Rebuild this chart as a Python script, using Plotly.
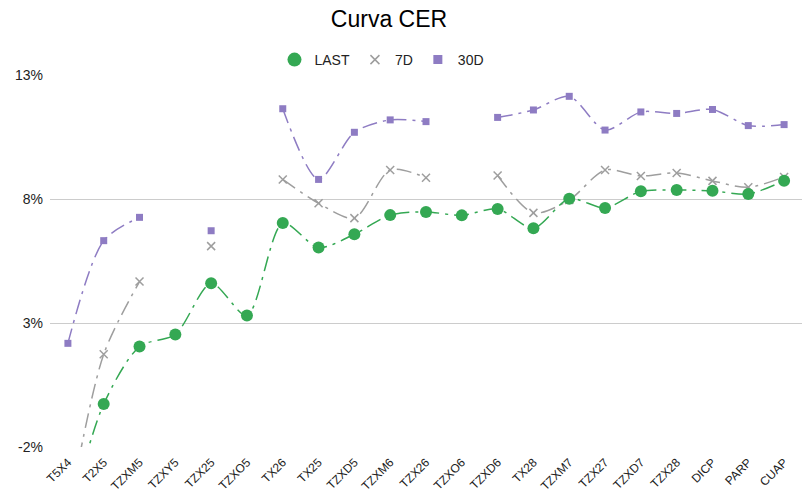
import plotly.graph_objects as go

categories = ["T5X4", "T2X5", "TZXM5", "TZXY5", "TZX25", "TZXO5", "TX26", "TX25",
              "TZXD5", "TZXM6", "TZX26", "TZXO6", "TZXD6", "TX28", "TZXM7", "TZX27",
              "TZXD7", "TZX28", "DICP", "PARP", "CUAP"]

last = [-5.0, -0.27, 2.05, 2.54, 4.6, 3.3, 7.03, 6.04, 6.58, 7.35, 7.48, 7.34, 7.6,
        6.82, 8.01, 7.64, 8.31, 8.36, 8.33, 8.2, 8.74]
d7 = [-4.8, 1.74, 4.67, None, 6.1, None, 8.79, 7.83, 7.23, 9.17, 8.86, None, 8.95,
      7.44, 7.96, 9.17, 8.93, 9.05, 8.73, 8.47, 8.89]
d30 = [2.18, 6.32, 7.26, None, 6.72, None, 11.64, 8.79, 10.69, 11.19, 11.12, None, 11.29,
       11.59, 12.14, 10.78, 11.51, 11.45, 11.61, 10.96, 11.0]

y_tickvals = [-2, 3, 8, 13]
y_ticktext = ["-2%", "3%", "8%", "13%"]

GREEN = "#34A853"
GRAY = "#9E9E9E"
PURPLE = "#8E7CC3"

fig = go.Figure()

series = [
    ("30D", d30, PURPLE, dict(symbol="square", size=7)),
    ("7D", d7, GRAY, dict(symbol="x-thin", size=8, line=dict(width=1.5, color=GRAY))),
    ("LAST", last, GREEN, dict(symbol="circle", size=12)),
]
for name, vals, col, mk in series:
    fig.add_trace(go.Scatter(
        x=categories, y=vals, mode="lines+markers", name=name,
        line=dict(color=col, width=1.5, dash="longdashdot", shape="spline", smoothing=0.8),
        marker=dict(color=col, **mk), connectgaps=False, showlegend=False,
    ))

for name, col, mk in [("LAST", GREEN, dict(symbol="circle", size=14)),
                      ("7D", GRAY, dict(symbol="x-thin", size=9, line=dict(width=1.5, color=GRAY))),
                      ("30D", PURPLE, dict(symbol="square", size=9))]:
    fig.add_trace(go.Scatter(x=[None], y=[None], mode="markers", name=name,
                             marker=dict(color=col, **mk), showlegend=True))

fig.update_layout(
    width=811, height=495,
    paper_bgcolor="white", plot_bgcolor="white",
    margin=dict(l=50, r=9, t=75, b=48, autoexpand=False),
    font=dict(family="Liberation Sans, Arial, sans-serif", color="#222222", size=12),
    title=dict(text="Curva CER", x=389 / 811, xanchor="center", y=1 - 19 / 495,
               yref="container", yanchor="middle", font=dict(size=23, color="#000000")),
    legend=dict(orientation="h", x=0.471, xref="container", xanchor="center", y=1 - 60 / 495,
                yref="container", yanchor="middle",
                font=dict(size=14, color="#222222"), traceorder="normal",
                itemsizing="trace"),
    showlegend=True,
)
fig.update_xaxes(range=[-0.5, len(categories) - 0.5], showgrid=False, showline=False,
                 ticks="", tickangle=-45, automargin=False, ticklabelstandoff=5,
                 tickfont=dict(size=12, color="#222222"), fixedrange=True)
fig.update_yaxes(range=[-2, 13], tickvals=y_tickvals, ticktext=y_ticktext, showgrid=True,
                 gridcolor="#cccccc", gridwidth=1, zeroline=False, showline=False,
                 automargin=False, ticklabelstandoff=6,
                 tickfont=dict(size=14, color="#222222"), ticks="", fixedrange=True)

fig.write_html("out.html", config={"displayModeBar": False},
               post_script="document.body.style.margin='0';document.body.style.overflow='hidden';")
